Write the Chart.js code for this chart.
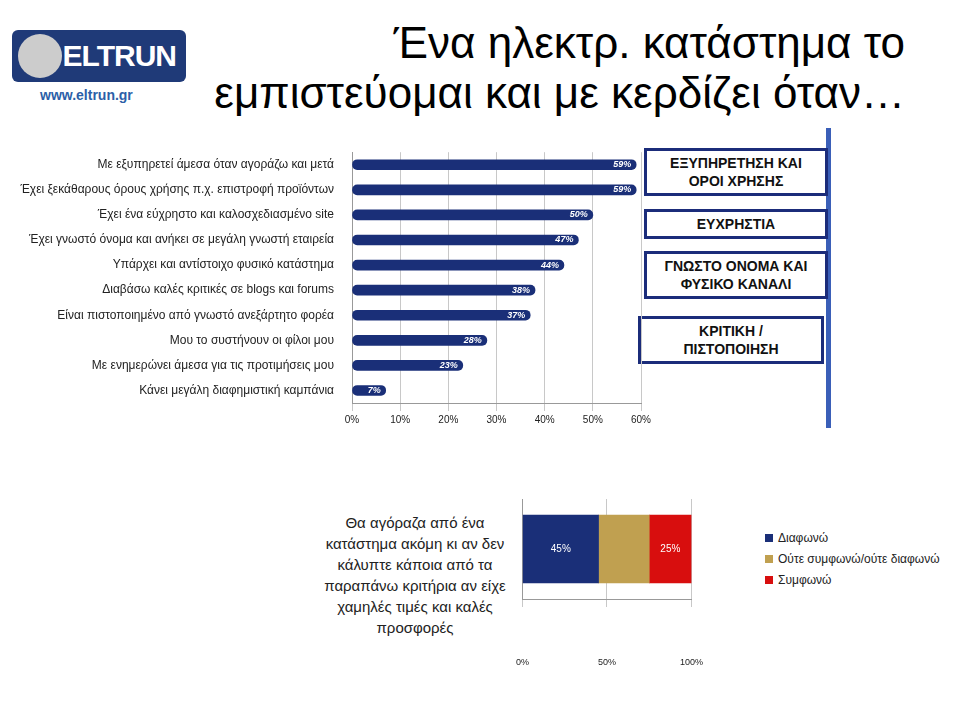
<!DOCTYPE html>
<html>
<head>
<meta charset="utf-8">
<script src="https://cdn.jsdelivr.net/npm/chart.js@4"></script>
<style>
body{margin:0;width:960px;height:711px;background:#fff;position:relative;overflow:hidden;font-family:Arial,"Liberation Sans",sans-serif}
.abs{position:absolute}
#title{right:55px;top:18px;text-align:right;font-size:44px;line-height:50px;color:#000}
#logo{left:12px;top:30px;width:174px;height:52px;background:#1f3a78;border-radius:6px;color:#fff;font:bold 30px "Liberation Sans Narrow",Arial;display:flex;align-items:center;justify-content:flex-end;padding-right:10px;box-sizing:border-box;letter-spacing:-1px}
#logo span.c{position:absolute;left:6px;top:4px;width:44px;height:44px;border-radius:50%;background:#ccc}
#url{left:40px;top:87px;color:#2c5fa8;font:bold 14px Arial}
.box{border:3px solid #1b2c7a;font:bold 14px Arial;color:#111;text-align:center;line-height:18px;box-sizing:border-box;display:flex;align-items:center;justify-content:center}
#q{left:315px;top:512px;width:200px;text-align:center;font-size:15px;line-height:21px;color:#222}
#leg{left:765px;top:528px;font-size:12px;line-height:21px;color:#222}
#leg i{display:inline-block;width:8px;height:8px;margin-right:5px}
#vline{left:826px;top:128px;width:5px;height:300px;background:#3a5fb8}
</style>
</head>
<body>
<div id="logo" class="abs"><span class="c"></span>ELTRUN</div>
<div id="url" class="abs">www.eltrun.gr</div>
<div id="title" class="abs">Ένα ηλεκτρ. κατάστημα το<br>εμπιστεύομαι και με κερδίζει όταν…</div>
<div id="vline" class="abs"></div>
<div class="abs box" style="left:644px;top:148px;width:184px;height:48px">ΕΞΥΠΗΡΕΤΗΣΗ ΚΑΙ<br>ΟΡΟΙ ΧΡΗΣΗΣ</div>
<div class="abs box" style="left:644px;top:209px;width:184px;height:30px">ΕΥΧΡΗΣΤΙΑ</div>
<div class="abs box" style="left:644px;top:251px;width:184px;height:48px">ΓΝΩΣΤΟ ΟΝΟΜΑ ΚΑΙ<br>ΦΥΣΙΚΟ ΚΑΝΑΛΙ</div>
<div class="abs box" style="left:638px;top:316px;width:186px;height:48px">ΚΡΙΤΙΚΗ /<br>ΠΙΣΤΟΠΟΙΗΣΗ</div>
<canvas id="c1" class="abs" style="left:10px;top:135px"></canvas>
<div id="q" class="abs">Θα αγόραζα από ένα κατάστημα ακόμη κι αν δεν κάλυπτε κάποια από τα παραπάνω κριτήρια αν είχε χαμηλές τιμές και καλές προσφορές</div>
<canvas id="c2" class="abs" style="left:466px;top:499px"></canvas>
<div id="leg" class="abs"></div>
<script>
const reasons = ['Με εξυπηρετεί άμεσα όταν αγοράζω και μετά','Έχει ξεκάθαρους όρους χρήσης π.χ. επιστροφή προϊόντων','Έχει ένα εύχρηστο και καλοσχεδιασμένο site','Έχει γνωστό όνομα και ανήκει σε μεγάλη γνωστή εταιρεία','Υπάρχει και αντίστοιχο φυσικό κατάστημα','Διαβάσω καλές κριτικές σε blogs και forums','Είναι πιστοποιημένο από γνωστό ανεξάρτητο φορέα','Μου το συστήνουν οι φίλοι μου','Με ενημερώνει άμεσα για τις προτιμήσεις μου','Κάνει μεγάλη διαφημιστική καμπάνια'];
const reasonValues = [59,59,50,47,44,38,37,28,23,7];
const answers = ['Διαφωνώ','Ούτε συμφωνώ/ούτε διαφωνώ','Συμφωνώ'];
const answerValues = [45,30,25];
const answerColors = ['#1a2f78','#c0a050','#d80e0e'];
const ticks1 = [0,10,20,30,40,50,60];
const ticks2 = [0,50,100];

const c1 = document.getElementById('c1'); c1.width = 650; c1.height = 294;
const c2 = document.getElementById('c2'); c2.width = 287; c2.height = 200;

const endLabels = {
  id:'endLabels',
  afterDatasetsDraw(chart){
    const ctx = chart.ctx;
    chart.data.datasets.forEach((ds,i)=>{
      chart.getDatasetMeta(i).data.forEach((bar,j)=>{
        const v = ds.data[j];
        if(chart.canvas.id==='c1'){
          ctx.font='italic bold 9px Arial'; ctx.fillStyle='#fff'; ctx.textAlign='right'; ctx.textBaseline='middle';
          ctx.fillText(v+'%', bar.x-5, bar.y);
        } else if(i!==1){
          ctx.font='10px Arial'; ctx.fillStyle='#fff'; ctx.textAlign='center'; ctx.textBaseline='middle';
          ctx.fillText(v+'%', (bar.x+bar.base)/2, bar.y);
        }
      });
    });
  }
};

new Chart(c1,{
  type:'bar',
  data:{labels:reasons,datasets:[{data:reasonValues,backgroundColor:'#1a2f78',barThickness:10,borderRadius:5,borderSkipped:false}]},
  options:{
    indexAxis:'y',responsive:false,animation:false,
    layout:{padding:{top:9,right:19}},
    plugins:{legend:{display:false},tooltip:{enabled:false}},
    scales:{
      x:{min:0,max:60,afterBuildTicks(s){s.ticks=ticks1.map(v=>({value:v}));},
        ticks:{callback:v=>v+'%',font:{size:10},color:'#222'},
        grid:{color:'#c8c8c8'},border:{color:'#999'}},
      y:{afterFit(s){s.width=342;},ticks:{font:{size:12},color:'#222',padding:10},
        grid:{display:false},border:{color:'#999'}}
    }
  },
  plugins:[endLabels]
});

new Chart(c2,{
  type:'bar',
  data:{labels:[''],datasets:answers.map((a,i)=>({label:a,data:[answerValues[i]],backgroundColor:answerColors[i],barThickness:68}))},
  options:{
    indexAxis:'y',responsive:false,animation:false,
    layout:{padding:{left:10,right:27,top:0}},
    plugins:{legend:{display:false},tooltip:{enabled:false}},
    scales:{
      x:{stacked:true,min:0,max:100,afterBuildTicks(s){s.ticks=ticks2.map(v=>({value:v}));},
        ticks:{callback:v=>v+'%',font:{size:9},color:'#222',padding:50},
        grid:{color:'#c8c8c8'},border:{color:'#999'}},
      y:{stacked:true,afterFit(s){s.width=12;},ticks:{display:false},grid:{display:false},border:{color:'#999'}}
    }
  },
  plugins:[endLabels]
});

document.getElementById('leg').innerHTML = answers.map((a,i)=>'<div><i style="background:'+answerColors[i]+'"></i>'+a+'</div>').join('');
</script>
</body>
</html>
